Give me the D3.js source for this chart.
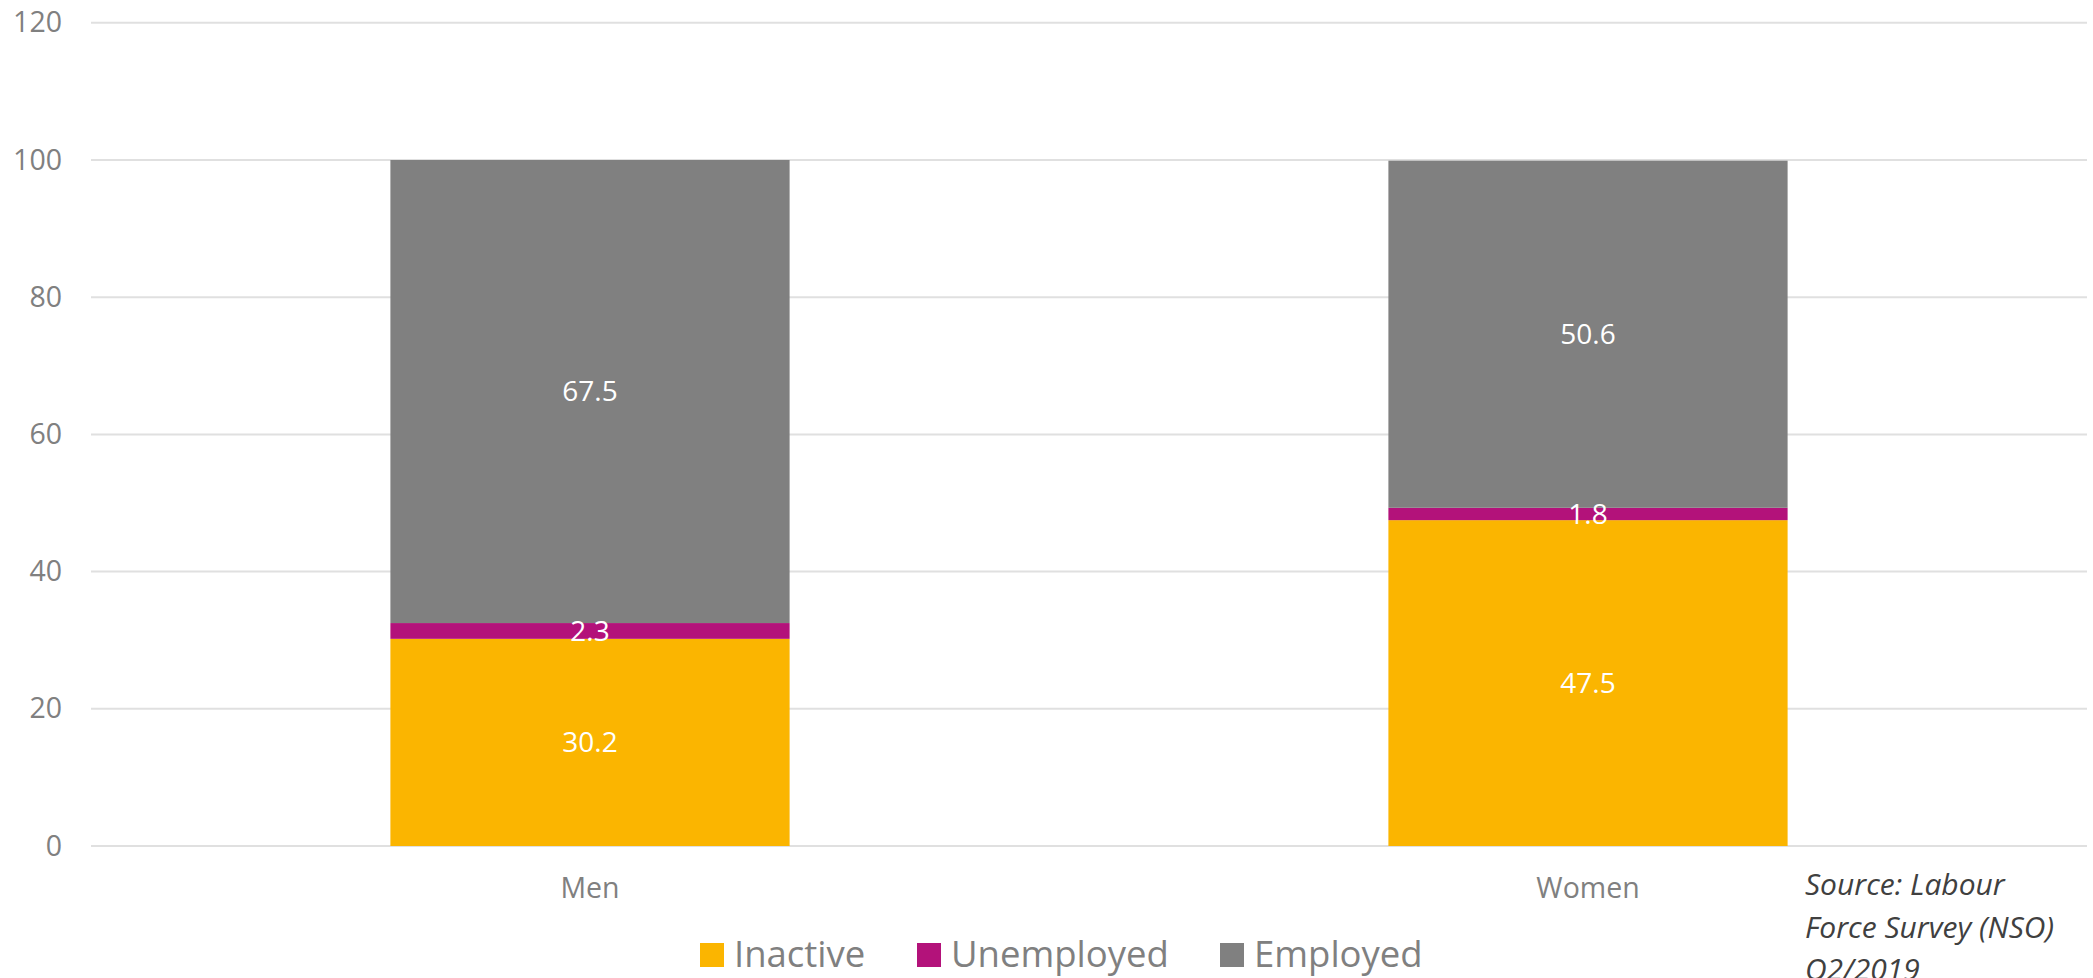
<!DOCTYPE html>
<html>
<head>
<meta charset="utf-8">
<script src="https://cdn.jsdelivr.net/npm/d3@7"></script>
<style>
  html, body { margin: 0; padding: 0; background: #ffffff; }
  svg { display: block; }
  text { font-family: "Open Sans", "Noto Sans", sans-serif; }
</style>
</head>
<body>
<svg id="chart" width="2093" height="978"></svg>
<script>
// Labour market status by sex, percentages
const categories = ["Men", "Women"];
const seriesNames = ["Inactive", "Unemployed", "Employed"];
const inactive = [30.2, 47.5];
const unemployed = [2.3, 1.8];
const employed = [67.5, 50.6];
const yTicks = [0, 20, 40, 60, 80, 100, 120];
const sourceLines = ["Source: Labour", "Force Survey (NSO)", "Q2/2019"];

const colors = { Inactive: "#fbb500", Unemployed: "#b3127a", Employed: "#808080" };

const rows = categories.map((c, i) => ({
  category: c,
  Inactive: inactive[i],
  Unemployed: unemployed[i],
  Employed: employed[i]
}));

const svg = d3.select("#chart");

const x = d3.scaleBand()
  .domain(categories)
  .range([91, 2087])
  .paddingInner(0.6)
  .paddingOuter(0.3);

const y = d3.scaleLinear()
  .domain([0, 120])
  .range([846, 22.8]);

// Horizontal gridlines
svg.append("g")
  .selectAll("line")
  .data(yTicks)
  .join("line")
  .attr("x1", 91)
  .attr("x2", 2087)
  .attr("y1", d => y(d))
  .attr("y2", d => y(d))
  .attr("stroke", "#e0e0e0")
  .attr("stroke-width", 2);

// Value axis labels
const yAxis = d3.axisLeft(y).tickValues(yTicks).tickSize(0).tickPadding(0);
const yAxisG = svg.append("g")
  .attr("transform", "translate(62,0)")
  .call(yAxis);
yAxisG.select(".domain").remove();
yAxisG.selectAll("text")
  .attr("fill", "#808080")
  .style("font-size", "28.5px")
  .style("font-family", "'Open Sans', sans-serif");

// Category axis labels
const xAxis = d3.axisBottom(x).tickSize(0).tickPadding(0);
const xAxisG = svg.append("g")
  .attr("transform", "translate(0,888)")
  .call(xAxis);
xAxisG.select(".domain").remove();
xAxisG.selectAll("text")
  .attr("dy", "0.35em")
  .attr("fill", "#808080")
  .style("font-size", "28.5px")
  .style("font-family", "'Open Sans', sans-serif");

// Stacked segments
const stacked = d3.stack().keys(seriesNames)(rows);

const layers = svg.append("g")
  .selectAll("g")
  .data(stacked)
  .join("g")
  .attr("fill", d => colors[d.key]);

layers.selectAll("rect")
  .data(d => d)
  .join("rect")
  .attr("x", d => x(d.data.category))
  .attr("width", x.bandwidth())
  .attr("y", d => y(d[1]))
  .attr("height", d => y(d[0]) - y(d[1]));

// Segment value labels
const labels = svg.append("g");
stacked.forEach(layer => {
  layer.forEach(d => {
    labels.append("text")
      .attr("x", x(d.data.category) + x.bandwidth() / 2)
      .attr("y", y((d[0] + d[1]) / 2))
      .attr("dy", "0.35em")
      .attr("text-anchor", "middle")
      .attr("fill", "#ffffff")
      .style("font-size", "28px")
      .text(d3.format(".1f")(d[1] - d[0]));
  });
});

// Legend
const legendItems = [
  { key: "Inactive", x: 700 },
  { key: "Unemployed", x: 917 },
  { key: "Employed", x: 1220 }
];
const legend = svg.append("g");
legendItems.forEach(item => {
  legend.append("rect")
    .attr("x", item.x)
    .attr("y", 943)
    .attr("width", 24)
    .attr("height", 24)
    .attr("fill", colors[item.key]);
  legend.append("text")
    .attr("x", item.x + 34)
    .attr("y", 967)
    .attr("fill", "#808080")
    .style("font-size", "36.5px")
    .text(item.key);
});

// Source note
svg.append("text")
  .attr("x", 1805)
  .attr("fill", "#404040")
  .style("font-size", "30px")
  .style("font-style", "italic")
  .selectAll("tspan")
  .data(sourceLines)
  .join("tspan")
  .attr("x", 1805)
  .attr("y", (d, i) => 895 + i * 42.5)
  .text(d => d);
</script>
</body>
</html>
